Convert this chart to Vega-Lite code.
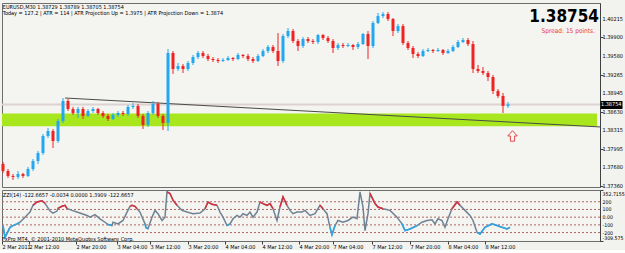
{
"$schema":"https://vega.github.io/schema/vega-lite/v6.json",
"background":"#F2F2EE",
"padding":{"left":-1,"top":2,"right":0,"bottom":0},
"spacing":3,
"bounds":"flush",
"config":{
"font":"DejaVu Sans Condensed, sans-serif",
"view":{"fill":"#F4F4F0","stroke":"#6E6E6E","strokeWidth":1},
"axis":{"labelFont":"DejaVu Sans Condensed, sans-serif","labelFontSize":5.5,"labelColor":"#000000","tickColor":"#404040","domainColor":"#404040","grid":false,"labelOverlap":false,"labelFlush":false}
},
"datasets":{
"candles":[
{"i":1,"o":1.37736,"h":1.37770,"l":1.37582,"c":1.37616},
{"i":2,"o":1.37616,"h":1.37650,"l":1.37497,"c":1.37531},
{"i":3,"o":1.37531,"h":1.37565,"l":1.37462,"c":1.37514},
{"i":4,"o":1.37514,"h":1.37616,"l":1.37479,"c":1.37565},
{"i":5,"o":1.37565,"h":1.37582,"l":1.37497,"c":1.37531},
{"i":6,"o":1.37531,"h":1.37685,"l":1.37514,"c":1.37650},
{"i":7,"o":1.37650,"h":1.37821,"l":1.37616,"c":1.37787},
{"i":8,"o":1.37787,"h":1.37958,"l":1.37736,"c":1.37924},
{"i":9,"o":1.37924,"h":1.38249,"l":1.37890,"c":1.38215},
{"i":10,"o":1.38215,"h":1.38352,"l":1.38181,"c":1.38300},
{"i":11,"o":1.38300,"h":1.38334,"l":1.38009,"c":1.38129},
{"i":12,"o":1.38129,"h":1.38505,"l":1.38095,"c":1.38471},
{"i":13,"o":1.38471,"h":1.38864,"l":1.38437,"c":1.38813},
{"i":14,"o":1.38813,"h":1.38847,"l":1.38642,"c":1.38676},
{"i":15,"o":1.38676,"h":1.38711,"l":1.38574,"c":1.38608},
{"i":16,"o":1.38608,"h":1.38711,"l":1.38522,"c":1.38676},
{"i":17,"o":1.38676,"h":1.38711,"l":1.38505,"c":1.38557},
{"i":18,"o":1.38557,"h":1.38676,"l":1.38540,"c":1.38642},
{"i":19,"o":1.38642,"h":1.38711,"l":1.38608,"c":1.38676},
{"i":20,"o":1.38676,"h":1.38694,"l":1.38574,"c":1.38608},
{"i":21,"o":1.38608,"h":1.38642,"l":1.38522,"c":1.38557},
{"i":22,"o":1.38557,"h":1.38591,"l":1.38471,"c":1.38505},
{"i":23,"o":1.38505,"h":1.38608,"l":1.38488,"c":1.38574},
{"i":24,"o":1.38574,"h":1.38642,"l":1.38540,"c":1.38608},
{"i":25,"o":1.38608,"h":1.38642,"l":1.38557,"c":1.38591},
{"i":26,"o":1.38591,"h":1.38745,"l":1.38557,"c":1.38711},
{"i":27,"o":1.38711,"h":1.38779,"l":1.38676,"c":1.38728},
{"i":28,"o":1.38728,"h":1.38762,"l":1.38522,"c":1.38557},
{"i":29,"o":1.38557,"h":1.38591,"l":1.38334,"c":1.38403},
{"i":30,"o":1.38403,"h":1.38642,"l":1.38369,"c":1.38608},
{"i":31,"o":1.38608,"h":1.38813,"l":1.38574,"c":1.38762},
{"i":32,"o":1.38762,"h":1.38796,"l":1.38522,"c":1.38557},
{"i":33,"o":1.38557,"h":1.38591,"l":1.38317,"c":1.38437},
{"i":34,"o":1.38437,"h":1.39702,"l":1.38300,"c":1.39634},
{"i":35,"o":1.39634,"h":1.39668,"l":1.39275,"c":1.39360},
{"i":36,"o":1.39360,"h":1.39463,"l":1.39326,"c":1.39411},
{"i":37,"o":1.39411,"h":1.39446,"l":1.39292,"c":1.39360},
{"i":38,"o":1.39360,"h":1.39497,"l":1.39326,"c":1.39463},
{"i":39,"o":1.39463,"h":1.39600,"l":1.39429,"c":1.39565},
{"i":40,"o":1.39565,"h":1.39668,"l":1.39531,"c":1.39634},
{"i":41,"o":1.39634,"h":1.39668,"l":1.39548,"c":1.39582},
{"i":42,"o":1.39582,"h":1.39617,"l":1.39497,"c":1.39531},
{"i":43,"o":1.39531,"h":1.39565,"l":1.39480,"c":1.39514},
{"i":44,"o":1.39514,"h":1.39548,"l":1.39463,"c":1.39497},
{"i":45,"o":1.39497,"h":1.39548,"l":1.39480,"c":1.39514},
{"i":46,"o":1.39514,"h":1.39582,"l":1.39497,"c":1.39548},
{"i":47,"o":1.39548,"h":1.39565,"l":1.39497,"c":1.39531},
{"i":48,"o":1.39531,"h":1.39634,"l":1.39514,"c":1.39600},
{"i":49,"o":1.39600,"h":1.39617,"l":1.39548,"c":1.39582},
{"i":50,"o":1.39582,"h":1.39617,"l":1.39497,"c":1.39531},
{"i":51,"o":1.39531,"h":1.39565,"l":1.39463,"c":1.39497},
{"i":52,"o":1.39497,"h":1.39617,"l":1.39480,"c":1.39582},
{"i":53,"o":1.39582,"h":1.39702,"l":1.39565,"c":1.39668},
{"i":54,"o":1.39668,"h":1.39771,"l":1.39634,"c":1.39736},
{"i":55,"o":1.39736,"h":1.39771,"l":1.39634,"c":1.39668},
{"i":56,"o":1.39668,"h":1.39976,"l":1.39411,"c":1.39497},
{"i":57,"o":1.39497,"h":1.39959,"l":1.39463,"c":1.39924},
{"i":58,"o":1.39924,"h":1.40061,"l":1.39890,"c":1.40010},
{"i":59,"o":1.40010,"h":1.40044,"l":1.39805,"c":1.39839},
{"i":60,"o":1.39839,"h":1.39873,"l":1.39668,"c":1.39753},
{"i":61,"o":1.39753,"h":1.39907,"l":1.39719,"c":1.39873},
{"i":62,"o":1.39873,"h":1.39907,"l":1.39805,"c":1.39839},
{"i":63,"o":1.39839,"h":1.39873,"l":1.39788,"c":1.39822},
{"i":64,"o":1.39822,"h":1.39959,"l":1.39788,"c":1.39941},
{"i":65,"o":1.39941,"h":1.39959,"l":1.39856,"c":1.39890},
{"i":66,"o":1.39890,"h":1.39924,"l":1.39805,"c":1.39839},
{"i":67,"o":1.39839,"h":1.39873,"l":1.39634,"c":1.39719},
{"i":68,"o":1.39719,"h":1.39805,"l":1.39685,"c":1.39771},
{"i":69,"o":1.39771,"h":1.39805,"l":1.39719,"c":1.39753},
{"i":70,"o":1.39753,"h":1.39805,"l":1.39736,"c":1.39771},
{"i":71,"o":1.39771,"h":1.39788,"l":1.39685,"c":1.39736},
{"i":72,"o":1.39736,"h":1.39822,"l":1.39702,"c":1.39788},
{"i":73,"o":1.39788,"h":1.39976,"l":1.39771,"c":1.39959},
{"i":74,"o":1.39959,"h":1.40010,"l":1.39531,"c":1.39753},
{"i":75,"o":1.39753,"h":1.40181,"l":1.39719,"c":1.40147},
{"i":76,"o":1.40147,"h":1.40318,"l":1.40130,"c":1.40266},
{"i":77,"o":1.40266,"h":1.40335,"l":1.40232,"c":1.40300},
{"i":78,"o":1.40300,"h":1.40335,"l":1.40181,"c":1.40215},
{"i":79,"o":1.40215,"h":1.40232,"l":1.39924,"c":1.40010},
{"i":80,"o":1.40010,"h":1.40130,"l":1.39976,"c":1.40095},
{"i":81,"o":1.40095,"h":1.40130,"l":1.39771,"c":1.39805},
{"i":82,"o":1.39805,"h":1.39839,"l":1.39685,"c":1.39719},
{"i":83,"o":1.39719,"h":1.39753,"l":1.39548,"c":1.39617},
{"i":84,"o":1.39617,"h":1.39651,"l":1.39548,"c":1.39582},
{"i":85,"o":1.39582,"h":1.39702,"l":1.39565,"c":1.39668},
{"i":86,"o":1.39668,"h":1.39719,"l":1.39651,"c":1.39685},
{"i":87,"o":1.39685,"h":1.39702,"l":1.39634,"c":1.39668},
{"i":88,"o":1.39668,"h":1.39719,"l":1.39651,"c":1.39685},
{"i":89,"o":1.39685,"h":1.39702,"l":1.39600,"c":1.39634},
{"i":90,"o":1.39634,"h":1.39702,"l":1.39617,"c":1.39668},
{"i":91,"o":1.39668,"h":1.39771,"l":1.39651,"c":1.39736},
{"i":92,"o":1.39736,"h":1.39856,"l":1.39719,"c":1.39822},
{"i":93,"o":1.39822,"h":1.39890,"l":1.39805,"c":1.39856},
{"i":94,"o":1.39856,"h":1.39890,"l":1.39753,"c":1.39788},
{"i":95,"o":1.39788,"h":1.39839,"l":1.39292,"c":1.39360},
{"i":96,"o":1.39360,"h":1.39429,"l":1.39292,"c":1.39326},
{"i":97,"o":1.39326,"h":1.39394,"l":1.39258,"c":1.39292},
{"i":98,"o":1.39292,"h":1.39326,"l":1.39155,"c":1.39223},
{"i":99,"o":1.39223,"h":1.39258,"l":1.38933,"c":1.38984},
{"i":100,"o":1.38984,"h":1.39018,"l":1.38864,"c":1.38899},
{"i":101,"o":1.38899,"h":1.38950,"l":1.38608,"c":1.38728},
{"i":102,"o":1.38728,"h":1.38796,"l":1.38694,"c":1.38754}
],
"zz":[
{"i":1.0,"v":-109},{"i":1.4,"v":-263},{"i":2.4,"v":-132},{"i":3.0,"v":-109},{"i":3.8,"v":-87},{"i":4.4,"v":-66},{"i":5.4,"v":0},{"i":6.4,"v":66},{"i":7.0,"v":154},{"i":7.8,"v":197},{"i":8.8,"v":213},{"i":9.4,"v":180},{"i":10.4,"v":79},{"i":11.0,"v":53},{"i":11.8,"v":79},{"i":12.0,"v":114},{"i":12.8,"v":141},{"i":13.4,"v":154},{"i":13.8,"v":114},{"i":14.8,"v":88},{"i":15.8,"v":66},{"i":16.8,"v":45},{"i":17.8,"v":22},{"i":18.4,"v":0},{"i":19.4,"v":32},{"i":20.4,"v":-21},{"i":21.4,"v":-66},{"i":22.0,"v":-96},{"i":22.8,"v":-109},{"i":23.0,"v":-66},{"i":24.0,"v":-87},{"i":25.0,"v":-43},{"i":25.8,"v":66},{"i":26.4,"v":141},{"i":26.8,"v":154},{"i":27.4,"v":141},{"i":27.8,"v":110},{"i":28.4,"v":66},{"i":29.4,"v":-87},{"i":29.6,"v":-136},{"i":30.0,"v":-149},{"i":30.8,"v":0},{"i":31.4,"v":88},{"i":32.0,"v":45},{"i":32.8,"v":-43},{"i":33.4,"v":0},{"i":33.8,"v":329},{"i":34.4,"v":308},{"i":35.0,"v":220},{"i":35.8,"v":154},{"i":36.8,"v":88},{"i":37.8,"v":66},{"i":39.0,"v":45},{"i":40.4,"v":53},{"i":41.4,"v":110},{"i":42.0,"v":197},{"i":42.8,"v":167},{"i":43.8,"v":154},{"i":44.4,"v":66},{"i":45.0,"v":0},{"i":45.8,"v":-109},{"i":46.4,"v":-87},{"i":47.0,"v":-21},{"i":47.8,"v":22},{"i":48.4,"v":0},{"i":49.0,"v":45},{"i":49.8,"v":22},{"i":50.4,"v":66},{"i":51.0,"v":0},{"i":51.8,"v":66},{"i":52.4,"v":197},{"i":53.0,"v":176},{"i":53.8,"v":154},{"i":54.4,"v":176},{"i":55.0,"v":110},{"i":55.8,"v":-43},{"i":56.4,"v":132},{"i":57.0,"v":263},{"i":57.8,"v":154},{"i":58.4,"v":88},{"i":59.0,"v":45},{"i":59.8,"v":66},{"i":60.8,"v":66},{"i":61.4,"v":88},{"i":62.4,"v":22},{"i":63.4,"v":45},{"i":64.4,"v":154},{"i":65.0,"v":110},{"i":65.8,"v":45},{"i":66.4,"v":-132},{"i":66.8,"v":-228},{"i":67.4,"v":-109},{"i":68.0,"v":-43},{"i":69.0,"v":-66},{"i":70.0,"v":-43},{"i":71.0,"v":0},{"i":71.8,"v":-21},{"i":72.4,"v":329},{"i":73.0,"v":132},{"i":73.4,"v":-175},{"i":74.0,"v":45},{"i":74.4,"v":308},{"i":75.4,"v":176},{"i":76.0,"v":132},{"i":77.0,"v":110},{"i":78.4,"v":88},{"i":79.8,"v":0},{"i":80.8,"v":-87},{"i":81.4,"v":-175},{"i":82.4,"v":-153},{"i":83.8,"v":-109},{"i":84.8,"v":-66},{"i":85.8,"v":-43},{"i":86.8,"v":-34},{"i":87.4,"v":-87},{"i":88.0,"v":-21},{"i":88.8,"v":-43},{"i":89.4,"v":-132},{"i":90.0,"v":-21},{"i":90.8,"v":110},{"i":91.8,"v":197},{"i":92.4,"v":154},{"i":93.4,"v":88},{"i":94.4,"v":22},{"i":95.0,"v":-43},{"i":95.8,"v":-197},{"i":96.4,"v":-218},{"i":97.4,"v":-132},{"i":98.8,"v":-87},{"i":99.8,"v":-109},{"i":100.8,"v":-132},{"i":101.8,"v":-153},{"i":102.4,"v":-132}
],
"zzc":[
{"s":"A","k":"b","i":1.0,"v":-109},{"s":"A","k":"b","i":1.4,"v":-263},{"s":"A","k":"b","i":2.4,"v":-132},{"s":"A","k":"b","i":3.0,"v":-109},{"s":"A","k":"b","i":3.8,"v":-87},{"s":"A","k":"b","i":4.4,"v":-66},
{"s":"B","k":"r","i":7.0,"v":154},{"s":"B","k":"r","i":7.8,"v":197},{"s":"B","k":"r","i":8.8,"v":213},{"s":"B","k":"r","i":9.4,"v":180},
{"s":"C","k":"r","i":12.0,"v":114},{"s":"C","k":"r","i":12.8,"v":141},{"s":"C","k":"r","i":13.4,"v":154},{"s":"C","k":"r","i":13.8,"v":114},
{"s":"D","k":"b","i":22.0,"v":-96},{"s":"D","k":"b","i":22.8,"v":-109},
{"s":"E","k":"r","i":26.4,"v":141},{"s":"E","k":"r","i":26.8,"v":154},{"s":"E","k":"r","i":27.4,"v":141},{"s":"E","k":"r","i":27.8,"v":110},
{"s":"F","k":"b","i":29.4,"v":-87},{"s":"F","k":"b","i":29.6,"v":-136},{"s":"F","k":"b","i":30.0,"v":-149},
{"s":"G","k":"r","i":33.8,"v":329},{"s":"G","k":"r","i":34.4,"v":308},{"s":"G","k":"r","i":35.0,"v":220},{"s":"G","k":"r","i":35.8,"v":154},
{"s":"H","k":"r","i":41.4,"v":110},{"s":"H","k":"r","i":42.0,"v":197},{"s":"H","k":"r","i":42.8,"v":167},{"s":"H","k":"r","i":43.8,"v":154},
{"s":"I","k":"b","i":45.8,"v":-109},{"s":"I","k":"b","i":46.4,"v":-87},
{"s":"J","k":"r","i":52.4,"v":197},{"s":"J","k":"r","i":53.0,"v":176},{"s":"J","k":"r","i":53.8,"v":154},{"s":"J","k":"r","i":54.4,"v":176},{"s":"J","k":"r","i":55.0,"v":110},
{"s":"K","k":"r","i":56.4,"v":132},{"s":"K","k":"r","i":57.0,"v":263},{"s":"K","k":"r","i":57.8,"v":154},
{"s":"L","k":"r","i":64.4,"v":154},{"s":"L","k":"r","i":65.0,"v":110},
{"s":"M","k":"b","i":66.4,"v":-132},{"s":"M","k":"b","i":66.8,"v":-228},{"s":"M","k":"b","i":67.4,"v":-109},
{"s":"N","k":"r","i":74.4,"v":308},{"s":"N","k":"r","i":75.4,"v":176},{"s":"N","k":"r","i":76.0,"v":132},{"s":"N","k":"r","i":77.0,"v":110},
{"s":"O","k":"b","i":80.8,"v":-87},{"s":"O","k":"b","i":81.4,"v":-175},{"s":"O","k":"b","i":82.4,"v":-153},{"s":"O","k":"b","i":83.8,"v":-109},
{"s":"P","k":"r","i":90.8,"v":110},{"s":"P","k":"r","i":91.8,"v":197},{"s":"P","k":"r","i":92.4,"v":154},
{"s":"Q","k":"b","i":95.8,"v":-197},{"s":"Q","k":"b","i":96.4,"v":-218},{"s":"Q","k":"b","i":97.4,"v":-132},{"s":"Q","k":"b","i":98.8,"v":-87},{"s":"Q","k":"b","i":99.8,"v":-109},{"s":"Q","k":"b","i":100.8,"v":-132},{"s":"Q","k":"b","i":101.8,"v":-153},{"s":"Q","k":"b","i":102.4,"v":-132}
]
},
"vconcat":[
{
"width":598,"height":184,
"encoding":{
 "x":{"field":"i","type":"quantitative","scale":{"domain":[0.8,120.4],"nice":false,"zero":false,"padding":0},"axis":null}
},
"layer":[
{"data":{"values":[{"i":0.8,"i2":119.8,"p":1.38600,"p2":1.38381}]},
 "mark":{"type":"rect","color":"#A8E61E"},
 "encoding":{
  "x2":{"field":"i2"},
  "y":{"field":"p","type":"quantitative","title":null,"scale":{"domain":[1.37342,1.40489],"nice":false,"zero":false,"padding":0}},
  "y2":{"field":"p2"}}},
{"data":{"values":[{"p":1.38754}]},
 "mark":{"type":"rule","color":"#DCD2D2","strokeWidth":2},
 "encoding":{"x":null,"y":{"field":"p","type":"quantitative","title":null}}},
{"data":{"values":[{"i":13.4,"p":1.38864,"i2":120.4,"p2":1.38369}]},
 "mark":{"type":"rule","color":"#4A4A4A","strokeWidth":1},
 "encoding":{
  "x2":{"field":"i2"},
  "y":{"field":"p","type":"quantitative","title":null},
  "y2":{"field":"p2"}}},
{"data":{"name":"candles"},
 "mark":{"type":"rule","strokeWidth":1},
 "encoding":{
  "y":{"field":"l","type":"quantitative","title":null},
  "y2":{"field":"h"},
  "color":{"condition":{"test":"datum.c >= datum.o","value":"#22A8F0"},"value":"#EE2424"}}},
{"data":{"name":"candles"},
 "mark":{"type":"bar","width":3},
 "encoding":{
  "y":{"field":"o","type":"quantitative","title":null},
  "y2":{"field":"c"},
  "color":{"condition":{"test":"datum.c >= datum.o","value":"#22A8F0"},"value":"#EE2424"}}},
{"data":{"values":[{"i":102.9,"p":1.38215}]},
 "mark":{"type":"point","shape":"M0,-1L0.9,0L0.4,0L0.4,1L-0.4,1L-0.4,0L-0.9,0Z","size":110,"filled":false,"fill":"#F6F6F2","fillOpacity":1,"stroke":"#E04848","strokeWidth":1,"opacity":1},
 "encoding":{
  "y":{"field":"p","type":"quantitative","title":null}}},
{"data":{"values":[{"i":0.96,"p":1.40429,"t":"EURUSD,M30  1.38729 1.38789 1.38705 1.38754"},{"i":0.96,"p":1.40323,"t":"Today = 127.2   |   ATR = 114   |   ATR Projection Up = 1.3975   |   ATR Projection Down = 1.3874"}]},
 "mark":{"type":"text","align":"left","baseline":"middle","fontSize":5.5,"color":"#000000"},
 "encoding":{
  "y":{"field":"p","type":"quantitative","title":null},
  "text":{"field":"t"}}},
{"data":{"values":[{"i":120.2,"p":1.40164,"t":"1.38754"}]},
 "mark":{"type":"text","align":"right","baseline":"alphabetic","fontSize":17,"fontWeight":"bold","color":"#000000"},
 "encoding":{
  "y":{"field":"p","type":"quantitative","title":null},
  "text":{"field":"t"}}},
{"data":{"values":[{"i":119.4,"p":1.40010,"t":"Spread: 15 points."}]},
 "mark":{"type":"text","align":"right","baseline":"middle","fontSize":6.5,"color":"#E83C3C"},
 "encoding":{
  "y":{"field":"p","type":"quantitative","title":null},
  "text":{"field":"t"}}},
{"data":{"values":[{"i":120.9,"p":1.40215,"t":"1.40215"},{"i":120.9,"p":1.39900,"t":"1.39900"},{"i":120.9,"p":1.39580,"t":"1.39580"},{"i":120.9,"p":1.39265,"t":"1.39265"},{"i":120.9,"p":1.38945,"t":"1.38945"},{"i":120.9,"p":1.38630,"t":"1.38630"},{"i":120.9,"p":1.38315,"t":"1.38315"},{"i":120.9,"p":1.37995,"t":"1.37995"},{"i":120.9,"p":1.37680,"t":"1.37680"},{"i":120.9,"p":1.37360,"t":"1.37360"}]},
 "mark":{"type":"text","align":"left","baseline":"middle","fontSize":5.5,"color":"#000000"},
 "encoding":{
  "y":{"field":"p","type":"quantitative","title":null},
  "text":{"field":"t"}}},
{"data":{"values":[{"i":120.5,"i2":124.9,"p":1.38813,"p2":1.38676}]},
 "mark":{"type":"rect","color":"#000000"},
 "encoding":{
  "x2":{"field":"i2"},
  "y":{"field":"p","type":"quantitative","title":null},
  "y2":{"field":"p2"}}},
{"data":{"values":[{"i":120.6,"p":1.38754,"t":"1.38754"}]},
 "mark":{"type":"text","align":"left","baseline":"middle","fontSize":5.5,"color":"#FFFFFF"},
 "encoding":{
  "y":{"field":"p","type":"quantitative","title":null,
   "axis":{"orient":"right","title":null,"values":[1.40215,1.39900,1.39580,1.39265,1.38945,1.38630,1.38315,1.37995,1.37680,1.37360],"labels":false,"tickSize":3}},
  "text":{"field":"t"}}}
]
},
{
"width":598,"height":51,
"layer":[
{"data":{"values":[{"lv":200},{"lv":100},{"lv":0},{"lv":-100},{"lv":-200}]},
 "mark":{"type":"rule","color":"#B06868","strokeWidth":1,"strokeDash":[2,2]},
 "encoding":{"y":{"field":"lv","type":"quantitative","title":null,"scale":{"domain":[-309.575,352.7155],"nice":false,"zero":false,"padding":0}}}},
{"data":{"name":"zz"},
 "mark":{"type":"line","color":"#6E8294","strokeWidth":1.5},
 "encoding":{
  "x":{"field":"i","type":"quantitative","title":null,"scale":{"domain":[0.8,120.4],"nice":false,"zero":false,"padding":0}},
  "y":{"field":"v","type":"quantitative","title":null}}},
{"data":{"name":"zzc"},
 "mark":{"type":"line","strokeWidth":1.5},
 "encoding":{
  "x":{"field":"i","type":"quantitative","title":null},
  "y":{"field":"v","type":"quantitative","title":null},
  "detail":{"field":"s"},
  "color":{"field":"k","type":"nominal","scale":{"domain":["r","b"],"range":["#D8303C","#2CA6E8"]},"legend":null}}},
{"data":{"values":[{"i":120.9,"v":307,"t":"352.7155"},{"i":120.9,"v":200,"t":"200"},{"i":120.9,"v":100,"t":"100"},{"i":120.9,"v":0,"t":"0.00"},{"i":120.9,"v":-100,"t":"-100"},{"i":120.9,"v":-200,"t":"-200"},{"i":120.9,"v":-268,"t":"-309.575"}]},
 "mark":{"type":"text","align":"left","baseline":"middle","fontSize":5.2,"color":"#000000"},
 "encoding":{
  "x":{"field":"i","type":"quantitative","title":null},
  "y":{"field":"v","type":"quantitative","title":null},
  "text":{"field":"t"}}},
{"data":{"values":[{"i":0.96,"v":288,"t":"ZZI(14) -122.6657 -0.0034 0.0000 1.3909 -122.6657"},{"i":0.8,"v":-284,"t":"FxPro MT4, © 2001-2010 MetaQuotes Software Corp."}]},
 "mark":{"type":"text","align":"left","baseline":"middle","fontSize":5.5,"color":"#000000"},
 "encoding":{
  "x":{"field":"i","type":"quantitative","title":null,
   "axis":{"orient":"bottom","title":null,"values":[0.8,6.2,15.6,23.8,30.4,38,45.4,52.8,60.2,67,74.8,82.4,90,97.4],
    "labelExpr":"['2 Mar 2011','2 Mar 12:00','2 Mar 20:00','3 Mar 04:00','3 Mar 12:00','3 Mar 20:00','4 Mar 04:00','4 Mar 12:00','4 Mar 20:00','7 Mar 04:00','7 Mar 12:00','7 Mar 20:00','8 Mar 04:00','8 Mar 12:00'][indexof([0.8,6.2,15.6,23.8,30.4,38,45.4,52.8,60.2,67,74.8,82.4,90,97.4], datum.value)]",
    "labelAlign":"left","labelBaseline":"top","labelFlush":false,"labelOverlap":false,"tickSize":3,"labelPadding":0,"domain":false}},
  "y":{"field":"v","type":"quantitative","title":null,
   "axis":{"orient":"right","title":null,"values":[352.7155,200,100,0,-100,-200,-309.575],"labels":false,"tickSize":3}},
  "text":{"field":"t"}}}
]
}
]
}
